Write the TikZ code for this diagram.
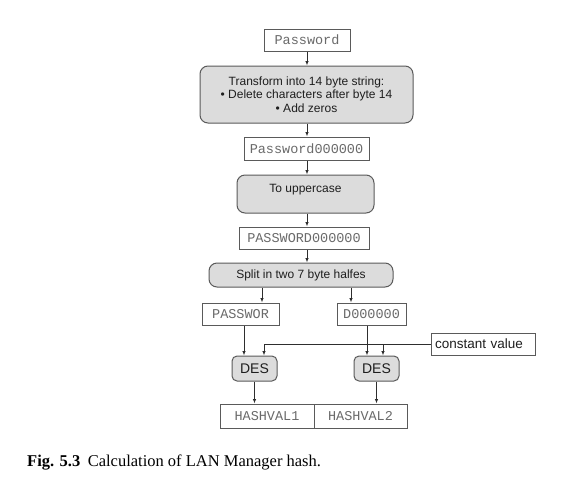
\documentclass[tikz,border=0pt]{standalone}
\usepackage{fontspec}
\setmainfont{Liberation Serif}
\setsansfont{Liberation Sans}
\setmonofont{Liberation Mono}
\usepackage{xcolor}
\usetikzlibrary{arrows.meta}
\definecolor{lmFill}{HTML}{DCDCDC}
\definecolor{lmEdge}{HTML}{5A5A5A}
\definecolor{lmLine}{HTML}{2E2E2E}
\definecolor{lmMono}{HTML}{6A6A6A}
\definecolor{lmText}{HTML}{1E1E1E}

\begin{document}
\begin{tikzpicture}[x=1pt,y=-1pt]
    \tikzset{
        strbox/.style={draw=lmEdge,line width=1pt,fill=white,inner sep=0pt,text=lmMono,font=\ttfamily\fontsize{13.5}{13.5}\selectfont},
        opbox/.style={draw=lmEdge,line width=1pt,fill=lmFill,rounded corners=8pt,inner sep=0pt,text=lmText,align=center,font=\sffamily\fontsize{12}{13.5}\selectfont},
        desbox/.style={opbox,rounded corners=5pt,minimum width=45pt,minimum height=25pt,font=\sffamily\fontsize{14}{14}\selectfont},
        arr/.style={draw=lmLine,line width=0.8pt,-{Latex[length=4.5pt,width=3.5pt]}}
    }
    \path[use as bounding box,fill=white] (0,0) rectangle (585,490);
    \node[strbox,minimum width=86pt,minimum height=22pt] (pw) at (307,40) {Password};
    \node[opbox,minimum width=213pt,minimum height=57pt] (trans) at (306.5,94.5) {Transform into 14 byte string:\\• Delete characters after byte 14\\• Add zeros};
    \node[strbox,minimum width=125pt,minimum height=23pt] (pwz) at (306.5,148.5) {Password000000};
    \node[opbox,minimum width=137pt,text height=17pt,text depth=21pt] (upper) at (305.5,194) {To uppercase};
    \node[strbox,minimum width=130pt,minimum height=22pt] (PWZ) at (304,238) {PASSWORD000000};
    \node[opbox,minimum width=184pt,minimum height=24pt] (split) at (301,275) {Split in two 7 byte halfes};
    \node[strbox,minimum width=77pt,minimum height=22pt] (left) at (240.5,314) {PASSWOR};
    \node[strbox,minimum width=69pt,minimum height=22pt] (right) at (371.5,314) {D000000};
    \node[strbox,minimum height=22pt,inner xsep=4pt,text width=96pt,align=left,text=lmText,font=\sffamily\fontsize{13.5}{13.5}\selectfont] (const) at (483,344) {constant value};
    \node[desbox] (des1) at (254.5,368.5) {DES};
    \node[desbox] (des2) at (376.5,368.5) {DES};
    \node[strbox,minimum width=94pt,minimum height=24pt] (h1) at (267,416) {HASHVAL1};
    \node[strbox,minimum width=93pt,minimum height=24pt] (h2) at (360.5,416) {HASHVAL2};
    \node[anchor=base west,inner sep=0pt,font=\fontsize{16.5}{16.5}\selectfont] (caption) at (27,466) {\textbf{Fig. 5.3}\hspace{0.45em}Calculation of LAN Manager hash.};

    \coordinate (axis) at (307,0);
    \foreach \a/\b in {pw/trans,trans/pwz,pwz/upper,upper/PWZ,PWZ/split}
        \draw[arr] (\a.south -| axis) -- (\b.north -| axis);
    \coordinate (s1) at ([xshift=-39pt]split.south);
    \coordinate (s2) at ([xshift=50pt]split.south);
    \draw[arr] (s1) -- (s1 |- left.north);
    \draw[arr] (s2) -- (s2 |- right.north);
    \coordinate (d1a) at ([xshift=-10.5pt]des1.north);
    \coordinate (d1b) at ([xshift=9.5pt]des1.north);
    \coordinate (d2a) at ([xshift=-9.5pt]des2.north);
    \coordinate (d2b) at ([xshift=6.5pt]des2.north);
    \draw[arr] (left.south -| d1a) -- (d1a);
    \draw[arr] (right.south -| d2a) -- (d2a);
    \draw[arr] (const.west) -| (d1b);
    \draw[arr] (const.west -| d2b) -- (d2b);
    \draw[arr] (des1.south) -- (des1.south |- h1.north);
    \draw[arr] (des2.south) -- (des2.south |- h2.north);
\end{tikzpicture}
\end{document}
